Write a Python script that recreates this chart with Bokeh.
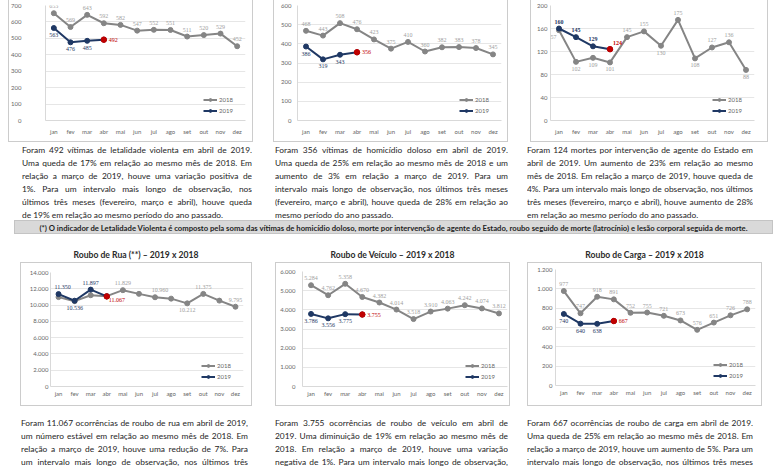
from bokeh.plotting import figure
from bokeh.models import (ColumnDataSource, Range1d, FixedTicker, LabelSet, Legend,
                          LegendItem, Div, Spacer)
from bokeh.layouts import row, column
from bokeh.embed import file_html
from bokeh.resources import INLINE

# ---------------- data ----------------
MESES = ["jan", "fev", "mar", "abr", "mai", "jun", "jul", "ago", "set", "out", "nov", "dez"]

LET_2018 = [653, 569, 643, 592, 582, 547, 552, 551, 511, 520, 529, 452]
LET_2019 = [563, 476, 485, 492]

HOM_2018 = [468, 443, 508, 476, 423, 375, 410, 360, 382, 383, 378, 345]
HOM_2019 = [386, 319, 343, 356]

MIAE_2018 = [157, 102, 109, 101, 145, 155, 130, 175, 108, 127, 136, 88]
MIAE_2019 = [160, 145, 129, 124]

RUA_2018 = [10979, 10480, 11210, 11093, 11829, 11377, 10960, 10790, 10212, 11375, 10547, 9795]
RUA_2019 = [11350, 10536, 11897, 11067]

VEI_2018 = [5284, 4762, 5358, 4670, 4382, 4014, 3518, 3910, 4063, 4242, 4074, 3812]
VEI_2019 = [3786, 3556, 3775, 3755]

CAR_2018 = [977, 747, 918, 891, 752, 755, 721, 673, 576, 651, 726, 788]
CAR_2019 = [740, 640, 638, 667]

SERIES = ["2018", "2019"]

TITLE_RUA = "Roubo de Rua (**) \u2013  2019 x 2018"
TITLE_VEI = "Roubo de Ve\u00edculo \u2013 2019 x 2018"
TITLE_CAR = "Roubo de Carga \u2013 2019 x 2018"

TXT_LET = [
    "Foram 492 v\u00edtimas de letalidade violenta em abril de 2019.",
    "Uma queda de 17% em rela\u00e7\u00e3o ao mesmo m\u00eas de 2018. Em",
    "rela\u00e7\u00e3o a mar\u00e7o de 2019, houve uma varia\u00e7\u00e3o positiva de",
    "1%. Para um intervalo mais longo de observa\u00e7\u00e3o, nos",
    "\u00faltimos tr\u00eas meses (fevereiro, mar\u00e7o e abril), houve queda",
    "de 19% em rela\u00e7\u00e3o ao mesmo per\u00edodo do ano passado.",
]
TXT_HOM = [
    "Foram 356 v\u00edtimas de homic\u00eddio doloso em abril de 2019.",
    "Uma queda de 25% em rela\u00e7\u00e3o ao mesmo m\u00eas de 2018 e um",
    "aumento de 3% em rela\u00e7\u00e3o a mar\u00e7o de 2019. Para um",
    "intervalo mais longo de observa\u00e7\u00e3o, nos \u00faltimos tr\u00eas meses",
    "(fevereiro, mar\u00e7o e abril), houve queda de 28% em rela\u00e7\u00e3o ao",
    "mesmo per\u00edodo do ano passado.",
]
TXT_MIAE = [
    "Foram 124 mortes por interven\u00e7\u00e3o de agente do Estado em",
    "abril de 2019. Um aumento de 23% em rela\u00e7\u00e3o ao mesmo",
    "m\u00eas de 2018. Em rela\u00e7\u00e3o a mar\u00e7o de 2019, houve queda de",
    "4%. Para um intervalo mais longo de observa\u00e7\u00e3o, nos \u00faltimos",
    "tr\u00eas meses (fevereiro, mar\u00e7o e abril), houve aumento de 28%",
    "em rela\u00e7\u00e3o ao mesmo per\u00edodo do ano passado.",
]
TXT_NOTA = ("(*) O indicador de Letalidade Violenta \u00e9 composto pela soma das v\u00edtimas de "
            "homic\u00eddio doloso, morte por interven\u00e7\u00e3o de agente do Estado, roubo seguido "
            "de morte (latroc\u00ednio) e les\u00e3o corporal seguida de morte.")
TXT_RUA = [
    "Foram 11.067 ocorr\u00eancias de roubo de rua em abril de 2019,",
    "um n\u00famero est\u00e1vel em rela\u00e7\u00e3o ao mesmo m\u00eas de 2018. Em",
    "rela\u00e7\u00e3o a mar\u00e7o de 2019, houve uma redu\u00e7\u00e3o de 7%. Para",
    "um intervalo mais longo de observa\u00e7\u00e3o, nos \u00faltimos tr\u00eas",
    "meses (fevereiro, mar\u00e7o e abril), houve uma varia\u00e7\u00e3o",
]
TXT_VEI = [
    "Foram 3.755 ocorr\u00eancias de roubo de ve\u00edculo em abril de",
    "2019. Uma diminui\u00e7\u00e3o de 19% em rela\u00e7\u00e3o ao mesmo m\u00eas de",
    "2018. Em rela\u00e7\u00e3o a mar\u00e7o de 2019, houve uma varia\u00e7\u00e3o",
    "negativa de 1%. Para um intervalo mais longo de observa\u00e7\u00e3o,",
    "nos \u00faltimos tr\u00eas meses (fevereiro, mar\u00e7o e abril), houve",
]
TXT_CAR = [
    "Foram 667 ocorr\u00eancias de roubo de carga em abril de 2019.",
    "Uma queda de 25% em rela\u00e7\u00e3o ao mesmo m\u00eas de 2018. Em",
    "rela\u00e7\u00e3o a mar\u00e7o de 2019, houve um aumento de 5%. Para um",
    "intervalo mais longo de observa\u00e7\u00e3o, nos \u00faltimos tr\u00eas meses",
    "(fevereiro, mar\u00e7o e abril), houve redu\u00e7\u00e3o de 24% em rela\u00e7\u00e3o",
]

# ---------------- style ----------------
FONT = "Lato"
GRAY_LINE = "#858585"
GRAY_LBL = "#a0a0a0"
NAVY = "#1f3864"
RED = "#c00000"
AXIS = "#d9d9d9"
GRID = "#e6e6e6"
TICK_TXT = "#666666"
BOX = "#cccccc"
PFONT = "8.4px"

OFFS = {"a": (0, 7), "b": (0, -7), "al": (-7, 7), "bl": (-7, -7), "ar": (5, 7),
        "br": (5, -7), "a3": (4, 7)}


def fmt(v):
    return f"{v:,}".replace(",", ".")


def make_chart(w, h, mb, ymax, ystep, v18, v19, ystand, xstand, pos18, pos19,
               red_off=(5, 0), bold19=False, top_border=True):
    p = figure(x_range=MESES, y_range=Range1d(0, ymax), width=w, height=h,
               output_backend="svg", toolbar_location=None,
               min_border_left=mb[0], min_border_right=mb[1],
               min_border_top=mb[2], min_border_bottom=mb[3])
    p.margin = 0
    p.outline_line_color = None
    p.border_fill_color = None
    p.background_fill_color = None
    shadow = f"inset 1px 0 0 {BOX}, inset -1px 0 0 {BOX}, inset 0 -1px 0 {BOX}"
    if top_border:
        shadow += f", inset 0 1px 0 {BOX}"
    p.styles = {"box-shadow": shadow, "background": "white"}

    ticks = list(range(0, ymax + 1, ystep))
    p.yaxis.ticker = FixedTicker(ticks=ticks)
    p.yaxis.major_label_overrides = {t: fmt(t) for t in ticks}
    for ax in (p.xaxis[0], p.yaxis[0]):
        ax.axis_line_color = AXIS
        ax.major_tick_line_color = None
        ax.minor_tick_line_color = None
        ax.major_tick_in = 0
        ax.major_tick_out = 0
        ax.minor_tick_in = 0
        ax.minor_tick_out = 0
        ax.major_label_text_font = FONT
        ax.major_label_text_font_size = "6px"
        ax.major_label_text_color = TICK_TXT
    p.yaxis.major_label_standoff = ystand
    p.xaxis.major_label_standoff = xstand
    p.xgrid.grid_line_color = None
    p.ygrid.grid_line_color = GRID

    m19 = MESES[:len(v19)]
    s18 = ColumnDataSource(dict(m=MESES, v=v18))
    s19 = ColumnDataSource(dict(m=m19, v=v19))
    l18 = p.line("m", "v", source=s18, line_color=GRAY_LINE, line_width=2)
    c18 = p.scatter("m", "v", source=s18, size=5, fill_color=GRAY_LINE, line_color=GRAY_LINE)
    l19 = p.line("m", "v", source=s19, line_color=NAVY, line_width=2)
    c19 = p.scatter("m", "v", source=s19, size=5, fill_color=NAVY, line_color=NAVY)
    p.scatter(x=[m19[-1]], y=[v19[-1]], size=5.5, fill_color=RED, line_color=RED)

    idx = [i for i, ps in enumerate(pos18) if ps]
    lab18 = ColumnDataSource(dict(m=[MESES[i] for i in idx], v=[v18[i] for i in idx],
                                  t=[fmt(v18[i]) for i in idx],
                                  xo=[OFFS[pos18[i]][0] for i in idx],
                                  yo=[OFFS[pos18[i]][1] for i in idx]))
    p.add_layout(LabelSet(x="m", y="v", text="t", source=lab18, x_offset="xo", y_offset="yo",
                          text_font=FONT, text_font_size="6px", text_color=GRAY_LBL,
                          text_align="center", text_baseline="middle"))
    n = len(v19) - 1
    lab19 = ColumnDataSource(dict(m=m19[:n], v=v19[:n], t=[fmt(x) for x in v19[:n]],
                                  xo=[OFFS[pos19[i]][0] for i in range(n)],
                                  yo=[OFFS[pos19[i]][1] for i in range(n)]))
    p.add_layout(LabelSet(x="m", y="v", text="t", source=lab19, x_offset="xo", y_offset="yo",
                          text_font=FONT, text_font_size="6px", text_color=NAVY,
                          text_font_style="bold" if bold19 else "normal",
                          text_align="center", text_baseline="middle"))
    labr = ColumnDataSource(dict(m=[m19[-1]], v=[v19[-1]], t=[fmt(v19[-1])]))
    p.add_layout(LabelSet(x="m", y="v", text="t", source=labr, x_offset=red_off[0],
                          y_offset=red_off[1], text_font=FONT, text_font_size="6px",
                          text_color=RED, text_font_style="bold" if bold19 else "normal",
                          text_align="left", text_baseline="middle"))

    legend = Legend(items=[LegendItem(label=SERIES[0], renderers=[l18, c18]),
                           LegendItem(label=SERIES[1], renderers=[l19, c19])],
                    location="bottom_right", background_fill_alpha=0, border_line_alpha=0,
                    label_text_font=FONT, label_text_font_size="6px",
                    label_text_color=TICK_TXT, glyph_width=14, glyph_height=7,
                    label_height=7, spacing=4, padding=1, margin=5, label_standoff=2)
    p.add_layout(legend)
    return p


def sp(w, h):
    return Spacer(width=w, height=h, margin=0)


def para(lines, w, h, pad_top, lh, last_left=True):
    parts = []
    for i, ln in enumerate(lines):
        last = (i == len(lines) - 1) and last_left
        al = "left" if last else "justify"
        parts.append(f'<div style="text-align:justify;text-align-last:{al};white-space:nowrap;">{ln}</div>')
    html = (f'<div style="width:{w}px;height:{h}px;overflow:hidden;box-sizing:border-box;'
            f'padding-top:{pad_top}px;font-family:{FONT};font-size:{PFONT};line-height:{lh}px;'
            f'color:#1e1e1e;">' + "".join(parts) + "</div>")
    return Div(text=html, width=w, height=h, margin=0, styles={"overflow": "hidden"})


def title_div(txt, w):
    html = (f'<div style="width:{w}px;padding-top:14px;text-align:center;font-family:{FONT};'
            f'font-weight:bold;font-size:8.6px;line-height:11px;color:#2a2a2a;white-space:nowrap;">{txt}</div>')
    return Div(text=html, width=w, height=26, margin=0)


# ---------------- top row (y 0-142) ----------------
p1 = make_chart(245, 142, (36, 8, 5, 22), 700, 100, LET_2018, LET_2019, 24, 7,
                ["a"] * 12, ["b", "b", "b"], top_border=False)
p2 = make_chart(235, 142, (24, 7, 5, 22), 600, 100, HOM_2018, HOM_2019, 6, 7,
                ["a"] * 12, ["b", "b", "b"], top_border=False)
p3 = make_chart(238, 142, (20, 14, 5, 22), 200, 40, MIAE_2018, MIAE_2019, 3, 7,
                ["bl", "b", "b", "b", "a", "a", "b", "a", "b", "a", "a", "b"],
                ["a", "a", "a"], red_off=(3, 6), bold19=True, top_border=False)

top_row = row(sp(8, 142), p1, sp(20, 142), p2, sp(22, 142), p3, margin=0)

# ---------------- top texts (y 142-220) ----------------
top_text = row(sp(22, 78), para(TXT_LET, 230, 78, 1.5, 13),
               sp(23, 78), para(TXT_HOM, 233, 78, 1.5, 13),
               sp(19, 78), para(TXT_MIAE, 226, 78, 1.5, 13), margin=0)

# ---------------- note bar (y 220-236) ----------------
nota_html = (f'<div style="width:759px;height:14px;background:#d9d9d9;border:1px solid #c4c4c4;'
             f'line-height:14px;text-align:center;font-family:{FONT};font-weight:bold;'
             f'font-size:7.7px;color:#1e1e1e;white-space:nowrap;overflow:hidden;">{TXT_NOTA}</div>')
nota_row = row(sp(14, 16), Div(text=nota_html, width=761, height=16, margin=0), margin=0)

# ---------------- bottom charts (y 236-406) ----------------
p4 = make_chart(232, 144, (30, 9, 10, 20), 14000, 2000, RUA_2018, RUA_2019, 2, 3,
                [None, None, None, None, "a", None, "ar", None, "b", "a", None, "a"],
                ["a3", "b", "a"], red_off=(2, -4))
p5 = make_chart(235, 144, (27, 3, 9, 20), 6000, 1000, VEI_2018, VEI_2019, 7, 3,
                ["a"] * 12, ["b", "b", "b"])
p6 = make_chart(235, 144, (28, 7, 7, 21), 1200, 200, CAR_2018, CAR_2019, 3, 3,
                ["a"] * 12, ["b", "b", "b"])

bottom_row = row(sp(20, 170), column(title_div(TITLE_RUA, 232), p4, margin=0),
                 sp(23, 170), column(title_div(TITLE_VEI, 235), p5, margin=0),
                 sp(17, 170), column(title_div(TITLE_CAR, 235), p6, margin=0), margin=0)

# ---------------- bottom texts (y 406-470) ----------------
bottom_text = row(sp(21, 64), para(TXT_RUA, 227, 64, 10.5, 13, last_left=False),
                  sp(27, 64), para(TXT_VEI, 233, 64, 10.5, 13, last_left=False),
                  sp(19, 64), para(TXT_CAR, 226, 64, 10.5, 13, last_left=False), margin=0)

page = column(top_row, top_text, nota_row, bottom_row, bottom_text, margin=0)

open("out.html", "w").write(file_html(page, INLINE))
